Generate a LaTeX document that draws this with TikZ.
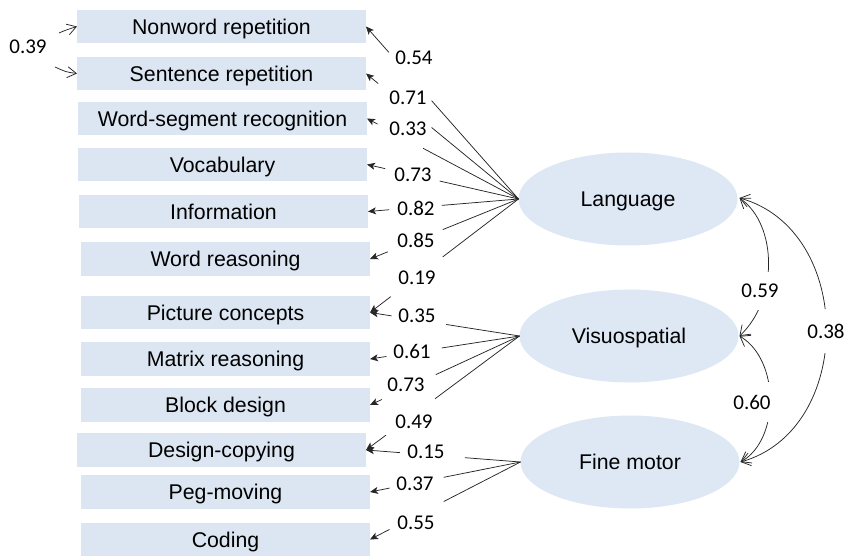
\documentclass[tikz,border=0pt]{standalone}
\usepackage{fontspec}
\setmainfont{Liberation Sans}
\newfontfamily\numfont{Carlito}
\usetikzlibrary{shapes.geometric,calc,arrows.meta}
\definecolor{boxblue}{RGB}{220,230,242}
\definecolor{ellblue}{RGB}{222,232,245}
\begin{document}
\begin{tikzpicture}[x=1pt,y=-1pt,
  obs/.style={rectangle, fill=boxblue, minimum width=289pt, minimum height=33.5pt, inner sep=0pt, outer sep=0pt, text height=17.5pt, text depth=2pt, font=\fontsize{21.3}{24}\selectfont},
  lat/.style={ellipse, fill=ellblue, minimum width=219pt, minimum height=93pt, inner sep=0pt, outer sep=0pt, text height=17.5pt, text depth=2pt, font=\fontsize{21.3}{24}\selectfont},
  num/.style={font=\numfont\fontsize{21}{24}\selectfont, inner sep=1pt},
  pline/.style={draw=black!85, line width=0.75pt},
  parrow/.style={pline, -{Stealth[length=8pt,width=7pt,inset=2pt]}},
  carrow/.style={draw=black!85, line width=0.75pt, {Straight Barb[length=9pt,width=13pt]}-{Straight Barb[length=9pt,width=13pt]}},
  oarrow/.style={draw=black!85, line width=0.75pt, -{Straight Barb[length=9pt,width=11pt]}},
  cnum/.style={num, fill=white, inner xsep=6pt, inner ysep=12.5pt}
]
\useasboundingbox (0,0) rectangle (846,556);

% observed variables
\node[obs] (nw) at (221.5,26.5) {Nonword repetition};
\node[obs] (sr) at (221.5,73.5) {Sentence repetition};
\node[obs] (ws) at (222.5,118.5) {Word-segment recognition};
\node[obs] (vo) at (222.5,164.5) {Vocabulary};
\node[obs] (inf) at (223.5,211.5) {Information};
\node[obs] (wr) at (225.5,259) {Word reasoning};
\node[obs] (pc) at (225.5,312.5) {Picture concepts};
\node[obs] (mr) at (225.5,359) {Matrix reasoning};
\node[obs] (bd) at (225.5,405) {Block design};
\node[obs] (dc) at (221.5,450) {Design-copying};
\node[obs] (pm) at (225.5,492) {Peg-moving};
\node[obs] (co) at (225.5,539.5) {Coding};

% latent variables
\node[lat] (L) at (628,199) {Language};
\node[lat] (V) at (629,336) {Visuospatial};
\node[lat] (F) at (630,462) {Fine motor};

% Language loadings
\draw[pline] (L.west) -- ($(L.west)!0.57!(nw.east)$);
\draw[parrow] ($(L.west)!0.85!(nw.east)$) -- (nw.east);
\draw[pline] (L.west) -- ($(L.west)!0.57!(sr.east)$);
\draw[parrow] ($(L.west)!0.92!(sr.east)$) -- (sr.east);
\draw[pline] (L.west) -- ($(L.west)!0.63!(ws.east)$);
\draw[parrow] ($(L.west)!0.93!(ws.east)$) -- (ws.east);
\draw[pline] (L.west) -- ($(L.west)!0.52!(vo.east)$);
\draw[parrow] ($(L.west)!0.88!(vo.east)$) -- (vo.east);
\draw[pline] (L.west) -- ($(L.west)!0.51!(inf.east)$);
\draw[parrow] ($(L.west)!0.86!(inf.east)$) -- (inf.east);
\draw[pline] (L.west) -- ($(L.west)!0.51!(wr.east)$);
\draw[parrow] ($(L.west)!0.88!(wr.east)$) -- (wr.east);
\draw[pline] (L.west) -- ($(L.west)!0.51!(pc.east)$);
\draw[parrow] ($(L.west)!0.86!(pc.east)$) -- (pc.east);

% Visuospatial loadings
\draw[pline] (V.west) -- ($(V.west)!0.49!(pc.east)$);
\draw[parrow] ($(V.west)!0.855!(pc.east)$) -- (pc.east);
\draw[pline] (V.west) -- ($(V.west)!0.52!(mr.east)$);
\draw[parrow] ($(V.west)!0.89!(mr.east)$) -- (mr.east);
\draw[pline] (V.west) -- ($(V.west)!0.56!(bd.east)$);
\draw[parrow] ($(V.west)!0.92!(bd.east)$) -- (bd.east);
\draw[pline] (V.west) -- ($(V.west)!0.55!(dc.east)$);
\draw[parrow] ($(V.west)!0.87!(dc.east)$) -- (dc.east);

% Fine motor loadings
\draw[pline] (F.west) -- ($(F.west)!0.36!(dc.east)$);
\draw[parrow] ($(F.west)!0.78!(dc.east)$) -- (dc.east);
\draw[pline] (F.west) -- ($(F.west)!0.51!(pm.east)$);
\draw[parrow] ($(F.west)!0.87!(pm.east)$) -- (pm.east);
\draw[pline] (F.west) -- ($(F.west)!0.51!(co.east)$);
\draw[parrow] ($(F.west)!0.87!(co.east)$) -- (co.east);

% loading labels
\node[num] (l1) at (414,58) {0.54};
\node[num] (l2) at (408,98) {0.71};
\node[num] (l3) at (408,129) {0.33};
\node[num] (l4) at (413,175) {0.73};
\node[num] (l5) at (416,208) {0.82};
\node[num] (l6) at (416,240) {0.85};
\node[num] (l7) at (417,278) {0.19};
\node[num] (l8) at (417,316) {0.35};
\node[num] (l9) at (412,351) {0.61};
\node[num] (l10) at (406,385) {0.73};
\node[num] (l11) at (414,422) {0.49};
\node[num] (l12) at (426,452) {0.15};
\node[num] (l13) at (415,484) {0.37};
\node[num] (l14) at (416,523) {0.55};

% error covariance
\coordinate (e1) at (59,33);
\coordinate (e2) at (55,67);
\draw[oarrow] (e1) .. controls (66,30) .. (nw.west);
\draw[oarrow] (e2) .. controls (66,72) .. (sr.west);
\node[num] (l39) at (28,47) {0.39};

% factor correlations
\draw[carrow] ($(L.east)+(2,-1)$) .. controls (778,225) and (778,300) .. ($(V.east)+(1,0)$);
\draw[carrow] ($(V.east)+(1,0)$) .. controls (780,360) and (780,440) .. ($(F.east)+(1,0)$);
\draw[carrow] ($(L.east)+(2,-1)$) .. controls (855,230) and (855,430) .. ($(F.east)+(1,0)$);
\node[cnum] (c1) at (760,291) {0.59};
\node[cnum] (c2) at (752,402) {0.60};
\node[cnum, inner ysep=15pt] (c3) at (826,331) {0.38};
\end{tikzpicture}
\end{document}
